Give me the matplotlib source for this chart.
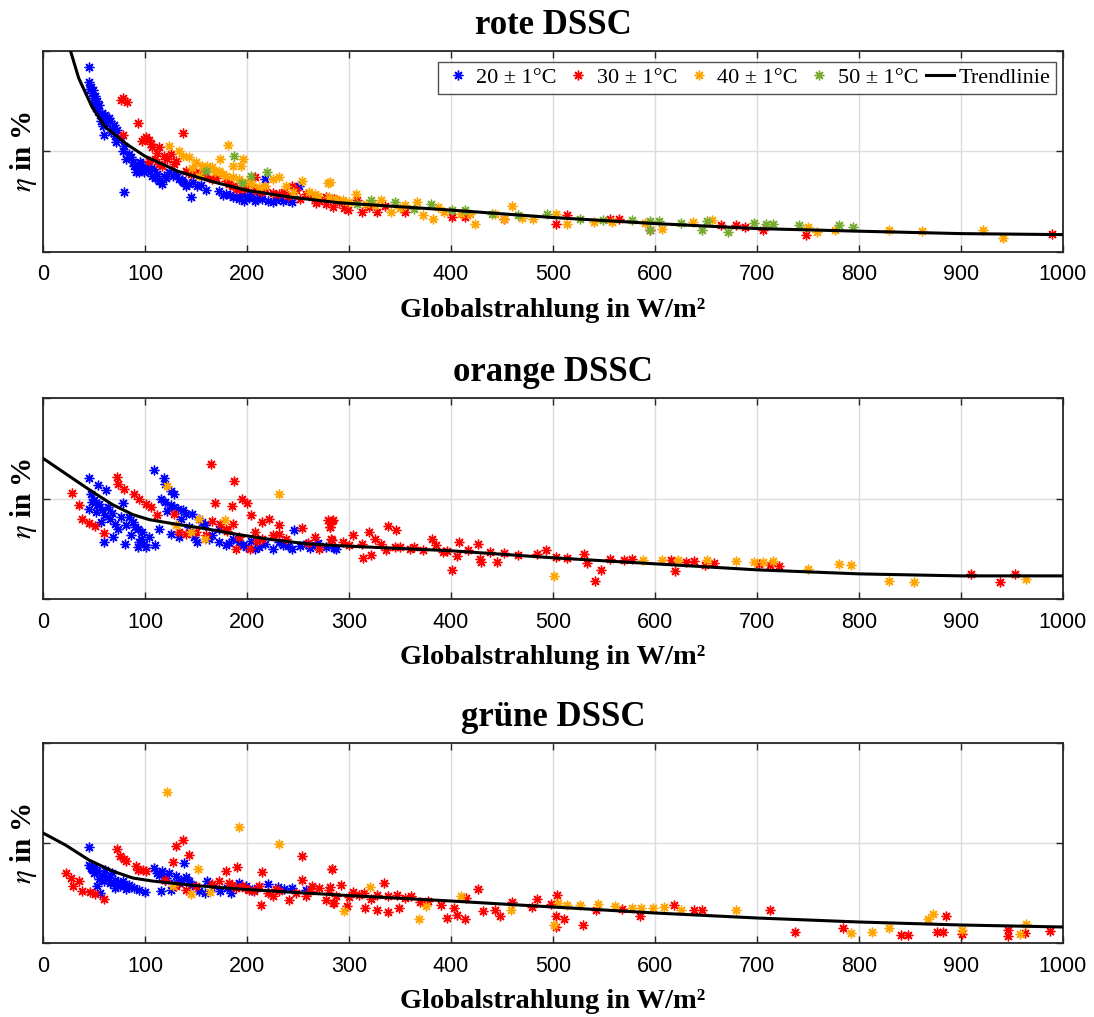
import matplotlib
matplotlib.use("Agg")
import matplotlib.pyplot as plt
from matplotlib.lines import Line2D

# ---------------- data (x: Globalstrahlung in W/m², y: relative efficiency, axis 0..2) ----------------
titles = ["rote DSSC", "orange DSSC", "grüne DSSC"]
series_labels = ["20 ± 1°C", "30 ± 1°C", "40 ± 1°C", "50 ± 1°C"]
trend_label = "Trendlinie"
x_ticks = [0, 100, 200, 300, 400, 500, 600, 700, 800, 900, 1000]

# ---- rote DSSC ----
rot_20_x = [45, 45, 47, 48, 50, 53, 55, 52, 58, 61, 65, 66, 57, 60, 70, 73, 71, 76, 78, 81, 79, 84, 89, 92, 96, 97,
            101, 104, 94, 109, 112, 114, 117, 119, 124, 127, 133, 137, 143, 147, 151, 155, 145, 79, 173, 179, 186, 192,
            197, 200, 208, 212, 221, 225, 235, 244, 251, 218, 49, 51, 54, 62, 68, 88, 99, 107, 121, 140, 160, 183, 204,
            215, 230, 240, 46, 50, 56, 59, 63, 67, 72, 86, 91, 95, 103, 110, 130, 136, 176, 189, 195, 202, 210, 228]
rot_20_y = [1.84, 1.69, 1.64, 1.58, 1.53, 1.50, 1.46, 1.43, 1.38, 1.36, 1.33, 1.30, 1.30, 1.16, 1.26, 1.21, 1.15, 1.13,
            1.00, 0.93, 1.05, 0.98, 0.86, 0.83, 0.88, 0.83, 0.85, 0.86, 0.80, 0.83, 0.78, 0.71, 0.68, 0.76, 0.80, 0.76,
            0.73, 0.70, 0.68, 0.70, 0.66, 0.67, 0.55, 0.60, 0.61, 0.58, 0.55, 0.53, 0.51, 0.56, 0.51, 0.55, 0.51, 0.50,
            0.51, 0.50, 0.66, 0.73, 1.61, 1.55, 1.40, 1.28, 1.22, 0.90, 0.80, 0.76, 0.74, 0.66, 0.62, 0.57, 0.58,
            0.53, 0.54, 0.52, 1.62, 1.48, 1.36, 1.25, 1.31, 1.19, 1.09, 0.95, 0.80, 0.90, 0.82, 0.74, 0.78, 0.72,
            0.57, 0.55, 0.57, 0.54, 0.53, 0.52]
rot_30_x = [78, 82, 76, 93, 137, 78, 101, 104, 97, 107, 114, 110, 119, 122, 125, 130, 104, 114, 140, 150, 160, 166,
            179, 186, 199, 208, 208, 218, 225, 231, 244, 248, 258, 264, 271, 277, 284, 277, 285, 299, 313, 308, 327,
            355, 414, 452, 503, 514, 556, 565, 595, 665, 679, 688, 706, 748, 989, 401, 117, 145, 190, 236, 290, 335,
            99, 106, 112, 128, 155, 170, 182, 195, 214, 240, 252, 268, 295, 320]
rot_30_y = [1.53, 1.49, 1.51, 1.28, 1.18, 1.16, 1.14, 1.11, 1.10, 1.04, 1.04, 0.93, 0.96, 0.93, 0.98, 0.91, 0.91, 0.88,
            0.81, 0.80, 0.76, 0.73, 0.71, 0.66, 0.65, 0.75, 0.62, 0.63, 0.59, 0.58, 0.66, 0.62, 0.58, 0.55, 0.51, 0.48,
            0.45, 0.55, 0.53, 0.42, 0.40, 0.52, 0.40, 0.40, 0.35, 0.33, 0.28, 0.37, 0.33, 0.33, 0.22, 0.27, 0.27, 0.25,
            0.22, 0.17, 0.18, 0.35, 0.86, 0.78, 0.63, 0.60, 0.50, 0.46, 1.12, 1.07, 0.99, 0.88, 0.78, 0.74, 0.68,
            0.63, 0.60, 0.56, 0.53, 0.49, 0.44, 0.45]
rot_40_x = [181, 124, 133, 137, 143, 150, 156, 161, 166, 173, 174, 186, 196, 194, 179, 186, 192, 205, 212, 225, 231,
            238, 254, 261, 267, 279, 280, 287, 153, 169, 281, 307, 331, 367, 387, 460, 341, 373, 382, 419, 424, 452,
            503, 514, 558, 607, 637, 656, 750, 759, 776, 829, 862, 922, 941, 294, 317, 355, 393, 443, 470, 540, 590,
            146, 158, 176, 200, 218, 245, 270, 300, 325, 350, 410, 480]
rot_40_y = [1.06, 1.05, 1.00, 0.96, 0.95, 0.90, 0.86, 0.86, 0.85, 0.81, 0.93, 0.86, 0.93, 0.86, 0.76, 0.75, 0.73, 0.68,
            0.65, 0.73, 0.75, 0.66, 0.71, 0.60, 0.58, 0.69, 0.55, 0.53, 0.76, 0.80, 0.70, 0.58, 0.52, 0.50, 0.45, 0.46,
            0.40, 0.37, 0.33, 0.38, 0.28, 0.33, 0.38, 0.28, 0.30, 0.23, 0.30, 0.32, 0.25, 0.20, 0.22, 0.22, 0.21, 0.22,
            0.14, 0.52, 0.48, 0.47, 0.40, 0.38, 0.34, 0.30, 0.29, 0.84, 0.83, 0.78, 0.70, 0.66, 0.60, 0.56, 0.50,
            0.47, 0.44, 0.38, 0.33]
rot_50_x = [187, 160, 204, 220, 195, 322, 345, 380, 401, 414, 440, 466, 494, 526, 549, 577, 595, 595, 604, 625, 651,
            646, 672, 697, 709, 716, 741, 780, 794, 308, 364]
rot_50_y = [0.96, 0.81, 0.76, 0.80, 0.69, 0.52, 0.50, 0.48, 0.42, 0.42, 0.38, 0.37, 0.38, 0.33, 0.32, 0.32, 0.31, 0.22,
            0.31, 0.29, 0.31, 0.22, 0.20, 0.29, 0.28, 0.28, 0.27, 0.27, 0.25, 0.48, 0.43]
rot_trend_x = [24, 27, 35, 48, 61, 81, 100, 133, 166, 199, 241, 290, 400, 500, 600, 700, 800, 900, 1000]
rot_trend_y = [2.15, 2.00, 1.73, 1.445, 1.246, 1.08, 0.953, 0.80, 0.70, 0.615, 0.548, 0.49, 0.417, 0.343, 0.283,
               0.233, 0.207, 0.183, 0.173]

# ---- orange DSSC ----
ora_20_x = [45, 54, 62, 109, 47, 48, 53, 45, 52, 58, 61, 78, 57, 66, 71, 74, 81, 88, 93, 97, 94, 93, 101, 110, 60, 69,
            80, 86, 119, 120, 125, 128, 120, 125, 132, 137, 140, 146, 153, 156, 159, 114, 125, 133, 151, 166, 173, 179,
            186, 192, 199, 208, 218, 225, 235, 244, 246, 258, 267, 277, 287, 173, 231, 285, 99, 104, 84, 64, 50, 122,
            143, 212, 252, 270, 55, 68, 76, 90, 96, 116, 128, 135, 148, 163, 182, 196, 204, 240, 262]
ora_20_y = [1.20, 1.13, 1.08, 1.28, 1.04, 0.97, 0.94, 0.90, 0.87, 0.89, 0.84, 0.96, 0.77, 0.80, 0.75, 0.70, 0.74, 0.77,
            0.70, 0.67, 0.57, 0.52, 0.52, 0.54, 0.57, 0.62, 0.55, 0.64, 1.20, 1.14, 1.07, 1.04, 0.97, 0.94, 0.90, 0.89,
            0.85, 0.85, 0.80, 0.77, 0.74, 0.70, 0.65, 0.62, 0.57, 0.64, 0.57, 0.54, 0.60, 0.57, 0.52, 0.50, 0.55, 0.50,
            0.54, 0.50, 0.69, 0.55, 0.54, 0.52, 0.50, 0.70, 0.57, 0.51, 0.55, 0.62, 0.82, 0.92, 0.99, 0.88, 0.72,
            0.52, 0.53, 0.56, 0.95, 0.86, 0.82, 0.72, 0.60, 1.00, 0.92, 0.80, 0.62, 0.60, 0.56, 0.54, 0.58, 0.53,
            0.51]
ora_30_x = [28, 35, 38, 45, 51, 60, 73, 74, 79, 89, 94, 101, 106, 112, 128, 133, 140, 165, 187, 169, 185, 195, 200,
            204, 166, 174, 179, 186, 215, 222, 231, 254, 208, 225, 231, 189, 203, 215, 267, 279, 284, 281, 282, 271,
            150, 160, 283, 281, 283, 304, 320, 325, 338, 346, 294, 313, 331, 336, 314, 322, 350, 364, 373, 381, 385,
            392, 401, 408, 406, 417, 426, 428, 429, 438, 445, 452, 466, 484, 493, 503, 514, 530, 533, 547, 541, 556,
            570, 577, 616, 620, 630, 638, 649, 658, 702, 713, 722, 910, 938, 953, 180, 192, 210, 238, 260, 300, 345,
            360, 396]
ora_30_y = [1.05, 0.94, 0.80, 0.76, 0.73, 0.66, 1.21, 1.14, 1.09, 1.04, 1.00, 0.95, 0.92, 0.84, 0.85, 0.67, 0.65, 1.34,
            1.17, 0.96, 0.93, 1.00, 0.96, 0.84, 0.78, 0.75, 0.70, 0.75, 0.77, 0.80, 0.74, 0.71, 0.67, 0.64, 0.65, 0.50,
            0.50, 0.60, 0.62, 0.79, 0.79, 0.72, 0.60, 0.50, 0.67, 0.64, 0.78, 0.72, 0.59, 0.64, 0.67, 0.60, 0.73, 0.69,
            0.57, 0.55, 0.55, 0.49, 0.41, 0.44, 0.52, 0.52, 0.49, 0.60, 0.54, 0.47, 0.29, 0.57, 0.43, 0.49, 0.55, 0.40,
            0.37, 0.47, 0.37, 0.46, 0.44, 0.45, 0.49, 0.42, 0.41, 0.45, 0.36, 0.29, 0.18, 0.40, 0.39, 0.40, 0.39, 0.28,
            0.37, 0.38, 0.34, 0.36, 0.35, 0.34, 0.33, 0.25, 0.17, 0.25, 0.68, 0.62, 0.58, 0.60, 0.56, 0.54, 0.52,
            0.50, 0.48]
ora_40_x = [122, 231, 153, 145, 159, 178, 130, 501, 588, 607, 623, 651, 679, 697, 706, 716, 750, 780, 792, 829, 854,
            964]
ora_40_y = [1.12, 1.04, 0.80, 0.67, 0.60, 0.79, 0.74, 0.23, 0.39, 0.39, 0.39, 0.39, 0.38, 0.37, 0.37, 0.38, 0.30, 0.35,
            0.34, 0.18, 0.17, 0.20]
ora_trend_x = [0, 29, 48, 68, 88, 104, 127, 159, 192, 225, 258, 290, 400, 500, 600, 700, 800, 900, 1000]
ora_trend_y = [1.40, 1.20, 1.07, 0.94, 0.84, 0.79, 0.75, 0.70, 0.64, 0.59, 0.55, 0.53, 0.48, 0.41, 0.35, 0.29, 0.25,
               0.23, 0.23]

# ---- grüne DSSC ----
gru_20_x = [45, 45, 47, 50, 53, 58, 61, 65, 68, 71, 66, 75, 78, 84, 89, 94, 100, 81, 71, 53, 56, 138, 109, 117, 124,
            130, 135, 140, 120, 116, 125, 153, 161, 168, 174, 184, 192, 199, 205, 221, 244, 258, 159, 48, 62, 74, 112,
            128, 146, 180, 230, 51, 55, 60, 64, 70, 79, 86, 114, 121, 133, 143, 210, 236]
gru_20_y = [0.96, 0.78, 0.75, 0.70, 0.72, 0.68, 0.73, 0.65, 0.70, 0.63, 0.60, 0.57, 0.62, 0.58, 0.55, 0.53, 0.51, 0.54,
            0.55, 0.57, 0.50, 0.80, 0.75, 0.72, 0.70, 0.67, 0.63, 0.66, 0.63, 0.52, 0.53, 0.52, 0.62, 0.57, 0.52, 0.50,
            0.60, 0.57, 0.53, 0.59, 0.55, 0.53, 0.50, 0.74, 0.66, 0.60, 0.70, 0.60, 0.58, 0.55, 0.56, 0.76, 0.64,
            0.62, 0.66, 0.60, 0.58, 0.56, 0.68, 0.65, 0.60, 0.62, 0.55, 0.54]
gru_30_x = [23, 27, 29, 35, 38, 46, 51, 60, 73, 75, 79, 81, 91, 93, 98, 101, 130, 137, 143, 127, 120, 130, 140, 150,
            166, 173, 179, 190, 182, 189, 195, 202, 212, 215, 214, 221, 225, 231, 241, 254, 254, 258, 264, 271, 277,
            283, 284, 280, 287, 283, 281, 292, 304, 315, 334, 327, 338, 347, 361, 285, 298, 316, 327, 338, 349, 377,
            390, 396, 403, 406, 414, 415, 426, 431, 443, 448, 460, 479, 484, 498, 504, 503, 503, 511, 529, 542, 568,
            585, 619, 638, 646, 713, 737, 784, 841, 848, 876, 882, 885, 901, 946, 946, 963, 987, 185, 198, 207, 228,
            248, 262, 300, 310, 322, 355, 370]
gru_30_y = [0.70, 0.65, 0.57, 0.62, 0.52, 0.51, 0.49, 0.44, 0.94, 0.87, 0.84, 0.82, 0.77, 0.73, 0.73, 0.72, 0.97, 1.03,
            0.88, 0.81, 0.63, 0.57, 0.53, 0.57, 0.59, 0.62, 0.72, 0.76, 0.60, 0.55, 0.57, 0.53, 0.57, 0.71, 0.38, 0.50,
            0.47, 0.52, 0.43, 0.87, 0.63, 0.47, 0.57, 0.55, 0.43, 0.74, 0.40, 0.53, 0.47, 0.74, 0.56, 0.58, 0.51, 0.50,
            0.60, 0.48, 0.47, 0.48, 0.47, 0.40, 0.37, 0.35, 0.33, 0.31, 0.35, 0.42, 0.38, 0.25, 0.35, 0.28, 0.24, 0.45,
            0.54, 0.32, 0.33, 0.27, 0.41, 0.36, 0.44, 0.39, 0.48, 0.27, 0.16, 0.24, 0.18, 0.33, 0.34, 0.27, 0.38, 0.33,
            0.33, 0.33, 0.11, 0.15, 0.08, 0.08, 0.11, 0.11, 0.27, 0.09, 0.13, 0.07, 0.10, 0.12, 0.58, 0.55, 0.52,
            0.54, 0.50, 0.52, 0.46, 0.48, 0.44, 0.45, 0.41]
gru_40_x = [122, 192, 231, 152, 127, 145, 164, 295, 321, 369, 375, 410, 459, 501, 505, 514, 526, 544, 561, 577, 586,
            598, 609, 625, 679, 792, 813, 829, 868, 873, 901, 958, 964]
gru_40_y = [1.51, 1.16, 0.99, 0.74, 0.57, 0.49, 0.51, 0.32, 0.56, 0.24, 0.37, 0.47, 0.33, 0.18, 0.40, 0.38, 0.38, 0.39,
            0.37, 0.35, 0.35, 0.35, 0.36, 0.33, 0.33, 0.10, 0.11, 0.15, 0.24, 0.29, 0.13, 0.09, 0.19]
gru_trend_x = [0, 22, 45, 68, 88, 107, 143, 192, 241, 290, 400, 500, 600, 700, 800, 900, 1000]
gru_trend_y = [1.10, 0.98, 0.83, 0.72, 0.65, 0.62, 0.58, 0.54, 0.51, 0.48, 0.42, 0.36, 0.30, 0.25, 0.21, 0.18, 0.16]

# ---------------- styling ----------------
colors = ["#0000FF", "#FF0000", "#FFA500", "#77AC30"]
plt.rcParams["mathtext.fontset"] = "stix"

panels = [
    [(rot_20_x, rot_20_y), (rot_30_x, rot_30_y), (rot_40_x, rot_40_y), (rot_50_x, rot_50_y), (rot_trend_x, rot_trend_y)],
    [(ora_20_x, ora_20_y), (ora_30_x, ora_30_y), (ora_40_x, ora_40_y), ([], []), (ora_trend_x, ora_trend_y)],
    [(gru_20_x, gru_20_y), (gru_30_x, gru_30_y), (gru_40_x, gru_40_y), ([], []), (gru_trend_x, gru_trend_y)],
]

fig = plt.figure(figsize=(10.94, 10.17), dpi=100)
W, H = 1094, 1017
boxes = [(43, 51, 1063, 252), (43, 398, 1063, 599), (43, 743, 1063, 943)]
asterisk = (8, 2, 0)
serif = "Liberation Serif"
sans = "Liberation Sans"
edge = "#262626"
msize = 7

for i, (box, data) in enumerate(zip(boxes, panels)):
    l, t, r, b = box
    ax = fig.add_axes([l / W, 1 - b / H, (r - l) / W, (b - t) / H])
    for j in range(4):
        xs, ys = data[j]
        ax.plot(xs, ys, linestyle="none", marker=asterisk, markersize=msize,
                markeredgewidth=1.0, color=colors[j], label=series_labels[j])
    tx, ty = data[4]
    ax.plot(tx, ty, color="black", linewidth=2.2, label=trend_label, zorder=5)

    ax.set_xlim(0, 1000)
    ax.set_ylim(0, 2)
    ax.set_xticks(x_ticks)
    ax.set_yticks([0, 1, 2])
    ax.set_yticklabels([])
    ax.tick_params(direction="in", length=5, width=1, colors=edge, top=True, right=True,
                   labelsize=15.5, pad=9)
    for lab in ax.get_xticklabels():
        lab.set_fontfamily(sans)
        lab.set_color("black")
    ax.grid(True, color="#dcdcdc", linewidth=1.0)
    ax.set_axisbelow(True)
    for s in ax.spines.values():
        s.set_color(edge)
        s.set_linewidth(1.3)

    ax.set_title(titles[i], fontfamily=serif, fontweight="bold", fontsize=25, pad=12)
    ax.set_xlabel("Globalstrahlung in W/m²", fontfamily=serif, fontweight="bold", fontsize=20.5, labelpad=9)
    ax.set_ylabel(r"$\eta$ in %", fontfamily=serif, fontweight="bold", fontsize=21)
    ax.yaxis.set_label_coords(-0.004, 0.5)

    if i == 0:
        leg_handles = [Line2D([], [], linestyle="none", marker=asterisk, markersize=msize, markeredgewidth=1.0,
                              color=c) for c in colors]
        leg_handles.append(Line2D([], [], color="black", linewidth=2.2))
        leg = ax.legend(leg_handles, series_labels + [trend_label], ncol=5, loc="upper right",
                        bbox_to_anchor=(0.993, 0.945), prop={"family": serif, "size": 16},
                        frameon=True, fancybox=False, edgecolor=edge, handlelength=1.25,
                        handletextpad=0.2, columnspacing=0.35, borderpad=0.25, borderaxespad=0.0)
        leg.get_frame().set_linewidth(1.0)

fig.savefig("out.png", dpi=100)
